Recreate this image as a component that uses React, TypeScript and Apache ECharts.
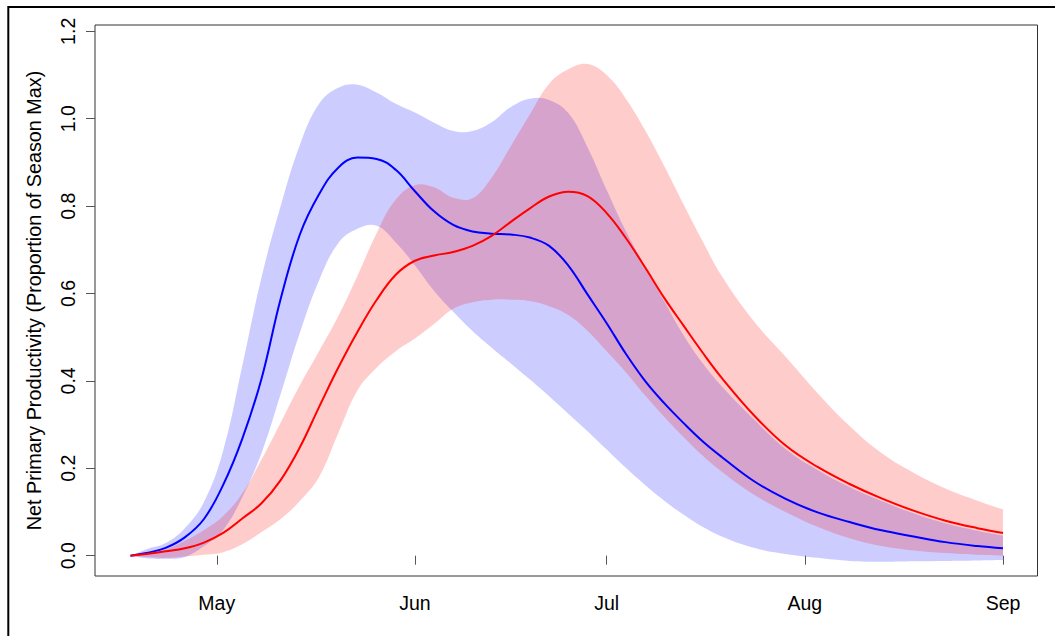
import React, { useEffect, useRef } from "react";
import * as echarts from "echarts";

// Day of year for each sample (day 121 = 1 May)
const days = [
  107.5, 110, 113, 116, 119, 122, 125, 128, 131, 134, 137, 140, 143, 146, 149,
  152, 155, 158, 161, 164, 167, 170, 173, 176, 179, 182, 185, 188, 191, 194,
  197, 200, 205, 210, 215, 220, 225, 230, 235, 240, 244,
];

const blueMean = [
  0, 0.006, 0.018, 0.042, 0.084, 0.162, 0.268, 0.405, 0.588, 0.735, 0.827,
  0.888, 0.911, 0.908, 0.883, 0.834, 0.788, 0.757, 0.742, 0.737, 0.735, 0.728,
  0.709, 0.664, 0.598, 0.532, 0.462, 0.4, 0.349, 0.304, 0.262, 0.226, 0.171,
  0.13, 0.099, 0.077, 0.058, 0.044, 0.031, 0.022, 0.017,
];
const blueUpper = [
  0, 0.015, 0.029, 0.063, 0.123, 0.24, 0.435, 0.637, 0.8, 0.94, 1.034, 1.071,
  1.078, 1.06, 1.034, 1.014, 0.991, 0.972, 0.972, 0.992, 1.027, 1.046, 1.043,
  1.013, 0.935, 0.837, 0.743, 0.662, 0.582, 0.505, 0.441, 0.388, 0.313, 0.244,
  0.196, 0.157, 0.125, 0.097, 0.074, 0.057, 0.046,
];
const blueLower = [
  0, -0.006, -0.007, -0.003, 0.022, 0.059, 0.134, 0.235, 0.37, 0.51, 0.63,
  0.715, 0.748, 0.755, 0.717, 0.664, 0.606, 0.558, 0.514, 0.476, 0.44, 0.403,
  0.365, 0.325, 0.285, 0.243, 0.201, 0.162, 0.126, 0.094, 0.066, 0.044, 0.018,
  0.004, -0.005, -0.012, -0.014, -0.013, -0.012, -0.011, -0.01,
];

const redMean = [
  0, 0.004, 0.01, 0.017, 0.03, 0.052, 0.085, 0.12, 0.173, 0.248, 0.34, 0.43,
  0.512, 0.585, 0.643, 0.675, 0.687, 0.695, 0.709, 0.732, 0.764, 0.795, 0.822,
  0.833, 0.823, 0.784, 0.727, 0.66, 0.59, 0.527, 0.465, 0.407, 0.322, 0.252,
  0.203, 0.164, 0.131, 0.103, 0.08, 0.063, 0.052,
];
const redUpper = [
  0, 0.004, 0.014, 0.034, 0.059, 0.091, 0.143, 0.22, 0.305, 0.39, 0.468, 0.548,
  0.64, 0.738, 0.815, 0.848, 0.843, 0.819, 0.818, 0.865, 0.937, 1.01, 1.08,
  1.113, 1.125, 1.1, 1.046, 0.974, 0.892, 0.805, 0.72, 0.64, 0.537, 0.455,
  0.372, 0.297, 0.235, 0.19, 0.154, 0.126, 0.106,
];
const redLower = [
  0, -0.003, -0.005, -0.002, 0.002, 0.008, 0.026, 0.054, 0.084, 0.125, 0.18,
  0.28, 0.378, 0.43, 0.468, 0.497, 0.53, 0.565, 0.58, 0.586, 0.586, 0.583,
  0.571, 0.551, 0.515, 0.468, 0.42, 0.367, 0.318, 0.272, 0.229, 0.192, 0.14,
  0.1, 0.066, 0.04, 0.022, 0.012, 0.006, 0.002, 0,
];

// Month ticks (first day of each month) and y ticks
const monthTickDays = [121, 152, 182, 213, 244];
const monthLabels = ["May", "Jun", "Jul", "Aug", "Sep"];
const yTicks = [0, 0.2, 0.4, 0.6, 0.8, 1.0, 1.2];

const FONT = "Liberation Sans, Arial, Helvetica, sans-serif";
const SMOOTH = 0.4;

const pairs = (vals: number[]) => days.map((d, i) => [d, vals[i]]);

// A closed band polygon: upper edge left→right, lower edge right→left.
// The right-hand end points are doubled so the vertical cut stays square.
function bandSeries(name: string, upper: number[], lower: number[], fill: string) {
  return {
    name,
    type: "custom" as const,
    silent: true,
    data: [[days[0], 0]],
    renderItem: (_params: any, api: any) => {
      const last = days.length - 1;
      const pts: number[][] = [];
      for (let i = 0; i <= last; i++) pts.push(api.coord([days[i], upper[i]]));
      pts.push(api.coord([days[last], upper[last]]));
      pts.push(api.coord([days[last], lower[last]]));
      for (let i = last; i >= 0; i--) pts.push(api.coord([days[i], lower[i]]));
      return {
        type: "polygon",
        shape: { points: pts, smooth: SMOOTH },
        style: { fill, stroke: "none" },
      };
    },
  };
}

export default function App() {
  const ref = useRef<HTMLDivElement>(null);

  useEffect(() => {
    if (!ref.current) return;
    const chart = echarts.init(ref.current, undefined, { renderer: "svg" });

    const labelFor = (v: number) => {
      const idx = monthTickDays.findIndex((t) => Math.abs(t - v) < 0.5);
      return idx >= 0 ? monthLabels[idx] : "";
    };

    chart.setOption({
      animation: false,
      backgroundColor: "#ffffff",
      grid: {
        left: 95,
        top: 25,
        right: 17.5,
        bottom: 60,
        show: true,
        borderColor: "#333",
        borderWidth: 1,
        backgroundColor: "transparent",
        containLabel: false,
      },
      xAxis: {
        type: "value",
        min: 101.95,
        max: 249.4,
        axisLine: { show: false },
        splitLine: { show: false },
        axisTick: {
          show: true,
          length: 9,
          inside: false,
          customValues: monthTickDays,
          lineStyle: { color: "#555", width: 1 },
        },
        axisLabel: {
          customValues: monthTickDays,
          formatter: (v: number) => labelFor(v),
          fontSize: 19.5,
          fontFamily: FONT,
          color: "#000",
          margin: 17,
        },
      },
      yAxis: {
        type: "value",
        min: -0.0465,
        max: 1.2145,
        axisLine: { show: false },
        splitLine: { show: false },
        axisTick: {
          show: true,
          length: 9,
          inside: false,
          customValues: yTicks,
          lineStyle: { color: "#555", width: 1 },
        },
        axisLabel: {
          customValues: yTicks,
          formatter: (v: number) => v.toFixed(1),
          rotate: 90,
          fontSize: 19.5,
          fontFamily: FONT,
          color: "#000",
          margin: 17,
        },
        name: "Net Primary Productivity (Proportion of Season Max)",
        nameLocation: "middle",
        nameRotate: 90,
        nameGap: 51,
        nameTextStyle: { fontSize: 19.8, fontFamily: FONT, color: "#000" },
      },
      series: [
        {
          name: "blue mean",
          type: "line",
          data: pairs(blueMean),
          showSymbol: false,
          smooth: SMOOTH,
          lineStyle: { color: "#0000ff", width: 2 },
        },
        {
          name: "red mean",
          type: "line",
          data: pairs(redMean),
          showSymbol: false,
          smooth: SMOOTH,
          lineStyle: { color: "#ff0000", width: 2 },
        },
        bandSeries("blue band", blueUpper, blueLower, "rgba(0,0,255,0.2)"),
        bandSeries("red band", redUpper, redLower, "rgba(255,0,0,0.2)"),
      ],
      graphic: [
        {
          type: "rect",
          silent: true,
          shape: { x: 8.3, y: 7, width: 1200, height: 800 },
          style: { fill: "none", stroke: "#000", lineWidth: 2 },
        },
      ],
    });

    return () => chart.dispose();
  }, []);

  return (
    <div
      ref={ref}
      style={{ position: "fixed", left: 0, top: 0, width: 1055, height: 636 }}
    />
  );
}
